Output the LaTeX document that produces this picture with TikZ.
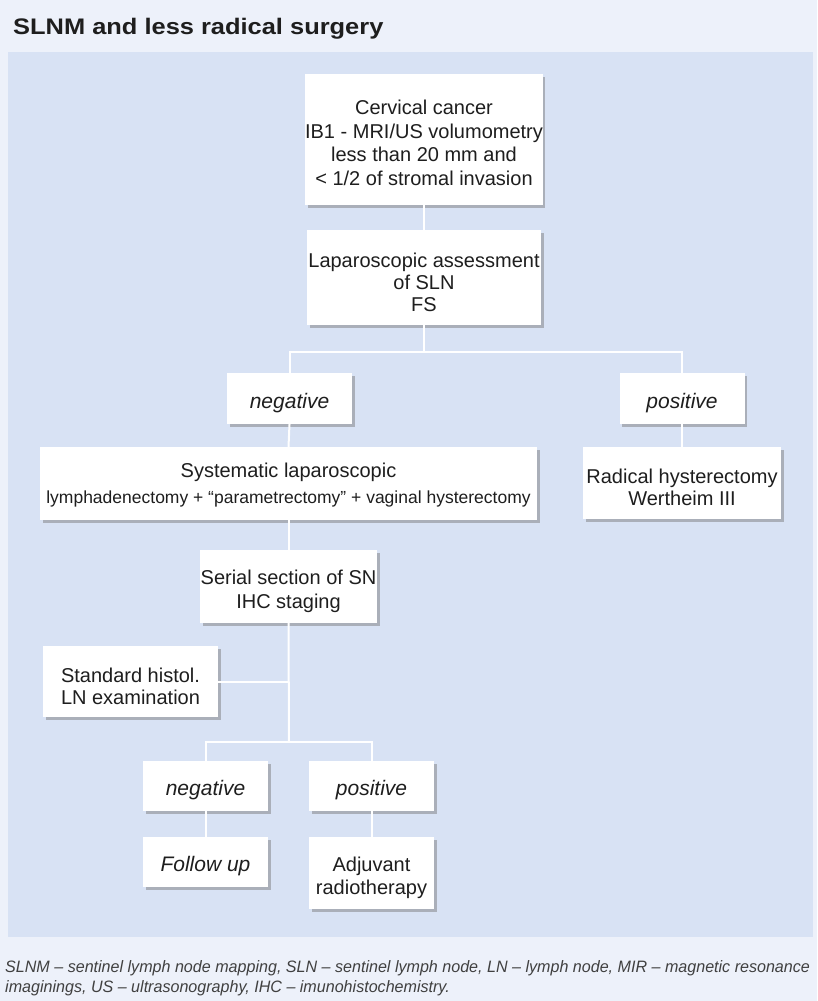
\documentclass[tikz,border=0pt]{standalone}
\usepackage{fontspec}
\setmainfont{Liberation Sans}
\newfontfamily\footfont{Liberation Sans}[FakeStretch=0.975]
\newfontfamily\titlefont{Liberation Sans}[FakeStretch=1.13]
\usetikzlibrary{shadows}
\definecolor{outerbg}{HTML}{EDF1FA}
\definecolor{panelbg}{HTML}{D8E2F4}
\definecolor{txt}{HTML}{1E1E1E}
\newcommand{\dn}[1]{\rule{0pt}{#1}}
\tikzset{
  box/.style={draw=none, fill=white, align=center, text=txt, inner sep=0pt,
    font=\fontsize{20}{23.5}\selectfont,
    drop shadow={shadow xshift=2.5pt, shadow yshift=-3pt, opacity=0.45, fill=black!55}},
  itbox/.style={box, font=\itshape\fontsize{21}{24}\selectfont},
  conn/.style={draw=white, line width=2pt}
}
\begin{document}
\begin{tikzpicture}[x=1pt,y=-1pt]
\useasboundingbox (0,0) rectangle (817,1001);
\clip (0,0) rectangle (817,1001);
\fill[outerbg] (0,0) rectangle (817,1001);
\fill[panelbg] (8,52) rectangle (813,937);
\node[anchor=base west, inner sep=0pt, text=txt, font=\titlefont\bfseries\fontsize{22.5}{24}\selectfont] (title) at (13,34) {SLNM and less radical surgery};

\coordinate (split1) at (424,352);
\coordinate (split2) at (289,742);

\node[box, minimum width=234pt, minimum height=131pt] (b1) at (424,139.5)
  {\dn{21pt}Cervical cancer\\IB1 - MRI/US volumometry\\less than 20 mm and\\< 1/2 of stromal invasion};
\node[box, minimum width=234pt, minimum height=95pt, font=\fontsize{20}{22}\selectfont] (b2) at (424,277.5)
  {\dn{24.5pt}Laparoscopic assessment\\of SLN\\FS};
\node[itbox, minimum width=125pt, minimum height=51pt] (neg1) at (289.5,398.5) {\dn{24pt}negative};
\node[itbox, minimum width=125pt, minimum height=51pt] (pos1) at (682,398.5) {\dn{24pt}positive};
\node[box, minimum width=497pt, minimum height=73pt, font=\fontsize{20}{26}\selectfont] (sys) at (288.5,483.5)
  {\dn{18.5pt}Systematic laparoscopic\\{\fontsize{17.5}{20}\selectfont lymphadenectomy + “parametrectomy” + vaginal hysterectomy}};
\node[box, minimum width=198pt, minimum height=72pt, font=\fontsize{20}{22}\selectfont] (rad) at (682,483)
  {\dn{22.5pt}Radical hysterectomy\\Wertheim III};
\node[box, minimum width=177pt, minimum height=73pt, font=\fontsize{20}{24}\selectfont] (ser) at (288.5,586.5)
  {\dn{24.5pt}Serial section of SN\\IHC staging};
\node[box, minimum width=175pt, minimum height=71pt, font=\fontsize{20}{21.5}\selectfont] (std) at (130.5,681.5)
  {\dn{24.5pt}Standard histol.\\LN examination};
\node[itbox, minimum width=125pt, minimum height=50pt] (neg2) at (205.5,786) {\dn{24pt}negative};
\node[itbox, minimum width=125pt, minimum height=50pt] (pos2) at (371.5,786) {\dn{24pt}positive};
\node[itbox, minimum width=125pt, minimum height=50pt] (fol) at (205.5,862) {\dn{24pt}Follow up};
\node[box, minimum width=125pt, minimum height=72pt, font=\fontsize{20}{23}\selectfont] (adj) at (371.5,873)
  {\dn{24.5pt}Adjuvant\\radiotherapy};

\draw[conn] (b1.south) -- (b2.north);
\draw[conn] (b2.south) -- (split1);
\draw[conn] (neg1.north) |- (split1) -| (pos1.north);
\draw[conn] (neg1.south) -- (sys.north);
\draw[conn] (pos1.south) -- (rad.north);
\draw[conn] (sys.south) -- (ser.north);
\draw[conn] (ser.south) -- (split2);
\draw[conn] (std.east) -- (std.east -| split2);
\draw[conn] (neg2.north) |- (split2) -| (pos2.north);
\draw[conn] (neg2.south) -- (fol.north);
\draw[conn] (pos2.south) -- (adj.north);

\node[anchor=base west, inner sep=0pt, text=txt!85, font=\footfont\itshape\fontsize{16.5}{20}\selectfont] (foot1) at (5,972)
  {SLNM – sentinel lymph node mapping, SLN – sentinel lymph node, LN – lymph node, MIR – magnetic resonance};
\node[anchor=base west, inner sep=0pt, text=txt!85, font=\footfont\itshape\fontsize{16.5}{20}\selectfont] (foot2) at (5,992)
  {imaginings, US – ultrasonography, IHC – imunohistochemistry.};
\end{tikzpicture}
\end{document}
